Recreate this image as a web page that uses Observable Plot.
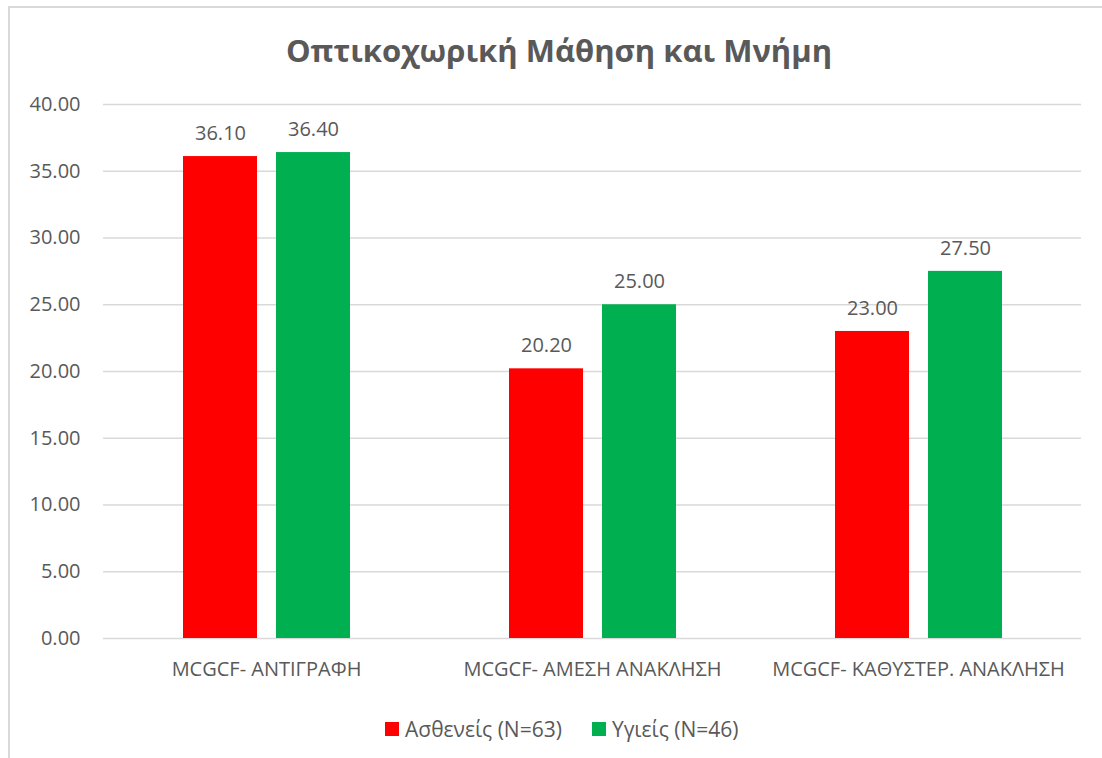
<!DOCTYPE html>
<html>
<head>
<meta charset="utf-8">
<script src="https://cdn.jsdelivr.net/npm/d3@7"></script>
<script src="https://cdn.jsdelivr.net/npm/@observablehq/plot@0.6"></script>
<style>
  html, body { margin: 0; padding: 0; background: #fff; }
  #wrap { position: relative; width: 1102px; height: 758px; overflow: hidden; font-family: "Open Sans", sans-serif; color: #595959; }
  #frame { position: absolute; left: 8px; top: 6px; width: 1200px; height: 1000px; border-top: 2px solid #d9d9d9; border-left: 2px solid #d9d9d9; box-sizing: border-box; pointer-events: none; }
  #title { height: 90px; box-sizing: border-box; padding-top: 28px; text-align: center; font-weight: bold; font-size: 31px; line-height: 44px; padding-left: 16px; }
  #chart svg { display: block; }
  #legend { height: 68px; box-sizing: border-box; padding-top: 9px; padding-left: 385px; display: flex; align-items: center; font-size: 21px; line-height: 26px; }
  .sw { width: 14px; height: 14px; display: inline-block; margin-right: 6px; }
  .item { display: flex; align-items: center; margin-right: 30px; }
</style>
</head>
<body>
<div id="wrap">
  <div id="frame"></div>
  <div id="title"></div>
  <div id="chart"></div>
  <div id="legend"></div>
</div>
<script>
const chartTitle = "Οπτικοχωρική Μάθηση και Μνήμη";
const categories = ["MCGCF- ΑΝΤΙΓΡΑΦΗ", "MCGCF- ΑΜΕΣΗ ΑΝΑΚΛΗΣΗ", "MCGCF- ΚΑΘΥΣΤΕΡ. ΑΝΑΚΛΗΣΗ"];
const seriesNames = ["Ασθενείς (N=63)", "Υγιείς (N=46)"];
const patients = [36.10, 20.20, 23.00];
const healthy = [36.40, 25.00, 27.50];
const yTicks = [0, 5, 10, 15, 20, 25, 30, 35, 40];
const colors = ["#FF0000", "#00B050"];

const seriesValues = [patients, healthy];
const data = [];
categories.forEach((c, i) => {
  seriesNames.forEach((s, j) => data.push({cat: c, series: s, value: seriesValues[j][i]}));
});

document.getElementById("title").textContent = chartTitle;

const chart = Plot.plot({
  width: 1102,
  height: 600,
  marginTop: 14,
  marginBottom: 52,
  marginLeft: 103,
  marginRight: 21,
  style: {fontFamily: "Open Sans, sans-serif", fontSize: "20px", color: "#595959", background: "transparent"},
  fx: {domain: categories, padding: 0, label: null, tickSize: 0, tickPadding: 23, axis: "bottom"},
  x: {domain: seriesNames, axis: null, paddingInner: 0.208, paddingOuter: 0.855},
  y: {domain: [0, 40], ticks: yTicks, tickFormat: d3.format(".2f"), tickSize: 0, tickPadding: 23, label: null},
  color: {domain: seriesNames, range: colors},
  marks: [
    Plot.ruleY(yTicks, {stroke: "#d9d9d9", strokeWidth: 1.5}),
    Plot.barY(data, {fx: "cat", x: "series", y: "value", fill: "series"}),
    Plot.text(data, {fx: "cat", x: "series", y: "value", text: d => d.value.toFixed(2), dy: -23, fill: "#595959", fontSize: 20})
  ]
});
document.getElementById("chart").appendChild(chart);

const legend = document.getElementById("legend");
seriesNames.forEach((s, i) => {
  const item = document.createElement("div");
  item.className = "item";
  const sw = document.createElement("span");
  sw.className = "sw";
  sw.style.background = colors[i];
  const t = document.createElement("span");
  t.textContent = s;
  item.appendChild(sw);
  item.appendChild(t);
  legend.appendChild(item);
});
</script>
</body>
</html>
